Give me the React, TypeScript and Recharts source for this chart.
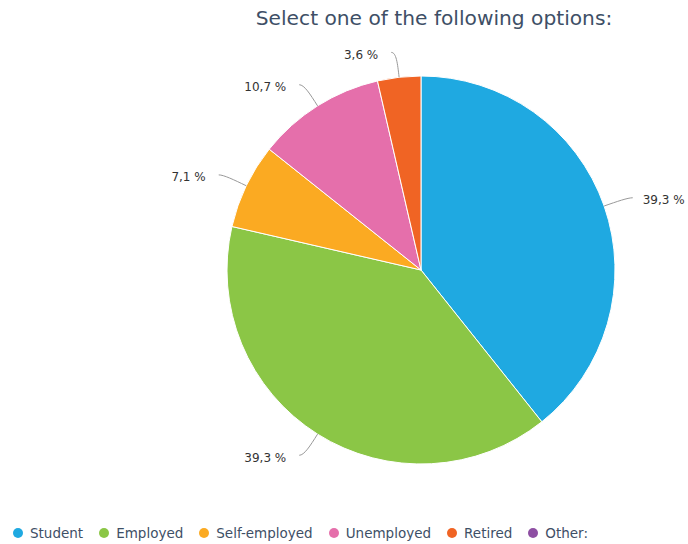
import React from 'react';
import { PieChart, Pie, Cell, Legend } from 'recharts';

const categories = ['Student', 'Employed', 'Self-employed', 'Unemployed', 'Retired', 'Other:'];
const shares = [39.3, 39.3, 7.1, 10.7, 3.6, 0];
const colors = ['#1fa9e1', '#8bc646', '#fbaa22', '#e56fab', '#f06424', '#8e4fa3'];

const data = categories.map((name, i) => ({ name, value: shares[i] }));

const RAD = Math.PI / 180;
const FONT = '"DejaVu Sans", Verdana, sans-serif';

const renderLabel = (props: any) => {
  const { cx, cy, midAngle, outerRadius, value, index } = props;
  if (!value) return null;
  const cos = Math.cos(-midAngle * RAD);
  const sin = Math.sin(-midAngle * RAD);
  const right = cos >= 0;
  const dir = right ? 1 : -1;
  // touching point, control point, break point, connector end
  const tx = cx + outerRadius * cos;
  const ty = cy + outerRadius * sin;
  const c1x = cx + (outerRadius + 14) * cos;
  const c1y = cy + (outerRadius + 14) * sin;
  const bx = cx + (outerRadius + 25) * cos;
  const by = cy + (outerRadius + 25) * sin;
  const ex = bx + dir * 5;
  const text = value.toFixed(1).replace('.', ',') + ' %';
  return (
    <g key={`lbl-${index}`}>
      <path
        d={`M${tx},${ty} C${c1x},${c1y} ${bx},${by} ${ex},${by}`}
        stroke="#999"
        strokeWidth={1}
        fill="none"
      />
      <text
        x={ex + (right ? 10 : -13)}
        y={by}
        dy={6.5}
        textAnchor={right ? 'start' : 'end'}
        fontSize={12}
        fill="#333"
        fontFamily={FONT}
      >
        {text}
      </text>
    </g>
  );
};

const renderLegend = () => (
  <div style={{ display: 'flex', alignItems: 'center', fontFamily: FONT, fontSize: 13.5, color: '#3e4f66' }}>
    {categories.map((c, i) => (
      <div key={c} style={{ display: 'flex', alignItems: 'center', marginRight: 16 }}>
        <span
          style={{
            display: 'inline-block',
            width: 10,
            height: 10,
            borderRadius: 5,
            background: colors[i],
            marginRight: 7,
          }}
        />
        <span>{c}</span>
      </div>
    ))}
  </div>
);

export default function App() {
  return (
    <div style={{ position: 'absolute', left: 0, top: 0, width: 688, height: 544, background: '#fff' }}>
      <PieChart width={688} height={544} margin={{ top: 0, right: 0, bottom: 0, left: 0 }}>
        <text x={434} y={25} textAnchor="middle" fontSize={20.2} fill="#3e4f66" fontFamily={FONT}>
          Select one of the following options:
        </text>
        <Pie
          data={data}
          dataKey="value"
          nameKey="name"
          cx={421}
          cy={270}
          outerRadius={194}
          startAngle={90}
          endAngle={-270}
          stroke="#fff"
          strokeWidth={1}
          label={renderLabel}
          labelLine={false}
          isAnimationActive={false}
        >
          {data.map((d, i) => (
            <Cell key={d.name} fill={colors[i]} />
          ))}
        </Pie>
        <Legend
          content={renderLegend}
          wrapperStyle={{ position: 'absolute', left: 13, top: 525, width: 680 }}
        />
      </PieChart>
    </div>
  );
}
